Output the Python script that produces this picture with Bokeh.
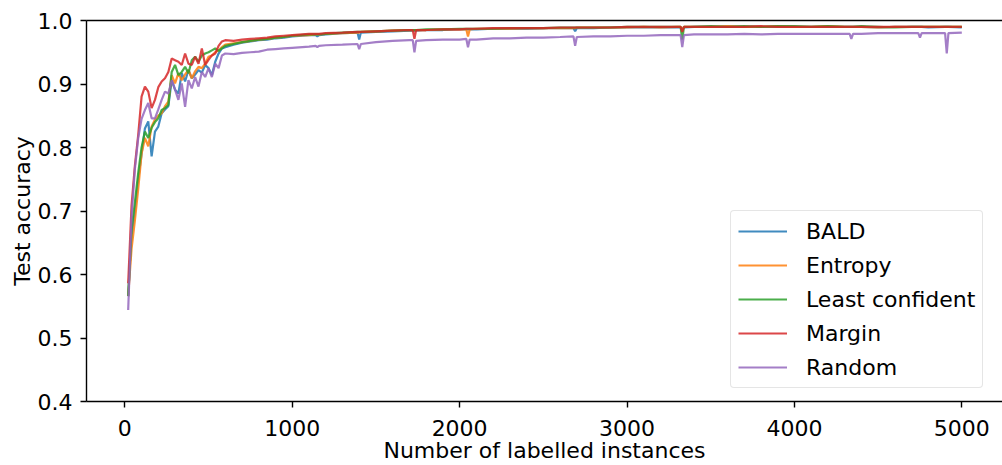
from bokeh.plotting import figure
from bokeh.models import Range1d, FixedTicker, PrintfTickFormatter, Legend, LegendItem, LinearAxis
from bokeh.embed import file_html
from bokeh.resources import INLINE

instances = [
    20, 40, 60, 80, 100, 120, 140, 160, 180, 200,
    220, 240, 260, 280, 300, 320, 340, 360, 380, 400,
    420, 440, 460, 480, 500, 520, 540, 560, 580, 600,
    650, 700, 750, 800, 850, 900, 950, 1000,
    1100, 1140, 1150, 1160, 1200, 1300,
    1390, 1400, 1410, 1500, 1600, 1700,
    1720, 1730, 1740, 1800, 1900, 2000,
    2040, 2050, 2060, 2100, 2200, 2300, 2400, 2500, 2600,
    2680, 2690, 2700, 2800, 2900, 3000, 3100, 3200, 3300,
    3320, 3330, 3340, 3400, 3500, 3600, 3700, 3800, 3900, 4000, 4100, 4200, 4300,
    4330, 4340, 4350, 4400, 4500, 4600, 4700,
    4740, 4750, 4760, 4800, 4900, 4910, 4920, 5000,
]

bald = [
    0.566, 0.660, 0.700, 0.750, 0.790, 0.830, 0.841, 0.786, 0.825, 0.833,
    0.854, 0.860, 0.865, 0.906, 0.891, 0.885, 0.917, 0.904, 0.922, 0.909,
    0.915, 0.922, 0.918, 0.930, 0.925, 0.914, 0.935, 0.948, 0.956, 0.958,
    0.962, 0.965, 0.967, 0.969, 0.970, 0.972, 0.973, 0.975,
    0.977, 0.977, 0.975, 0.977, 0.978, 0.980,
    0.981, 0.970, 0.981, 0.982, 0.983, 0.984,
    0.984, 0.984, 0.984, 0.985, 0.985, 0.986,
    0.986, 0.986, 0.986, 0.986, 0.987, 0.987, 0.987, 0.988, 0.988,
    0.988, 0.983, 0.988, 0.988, 0.989, 0.989, 0.989, 0.989, 0.989,
    0.989, 0.986, 0.989, 0.990, 0.990, 0.990, 0.990, 0.990, 0.990, 0.990, 0.990, 0.990, 0.990,
    0.990, 0.990, 0.990, 0.990, 0.989, 0.990, 0.990,
    0.990, 0.990, 0.990, 0.989, 0.990, 0.990, 0.990, 0.989,
]

entropy = [
    0.566, 0.640, 0.685, 0.735, 0.790, 0.815, 0.802, 0.833, 0.844, 0.850,
    0.854, 0.865, 0.872, 0.914, 0.901, 0.917, 0.906, 0.915, 0.922, 0.909,
    0.920, 0.927, 0.925, 0.932, 0.943, 0.945, 0.950, 0.953, 0.958, 0.962,
    0.964, 0.966, 0.968, 0.970, 0.971, 0.973, 0.974, 0.976,
    0.977, 0.978, 0.978, 0.978, 0.979, 0.980,
    0.981, 0.981, 0.982, 0.983, 0.984, 0.985,
    0.985, 0.985, 0.985, 0.985, 0.986, 0.986,
    0.986, 0.975, 0.986, 0.987, 0.987, 0.987, 0.988, 0.988, 0.988,
    0.988, 0.988, 0.989, 0.989, 0.989, 0.989, 0.990, 0.989, 0.990,
    0.990, 0.985, 0.990, 0.990, 0.990, 0.991, 0.990, 0.990, 0.991, 0.990, 0.990, 0.991, 0.990,
    0.990, 0.990, 0.990, 0.990, 0.989, 0.990, 0.990,
    0.990, 0.990, 0.990, 0.990, 0.990, 0.990, 0.990, 0.990,
]

least_confident = [
    0.566, 0.670, 0.714, 0.760, 0.800, 0.825, 0.815, 0.831, 0.840, 0.846,
    0.859, 0.862, 0.867, 0.919, 0.930, 0.914, 0.919, 0.927, 0.917, 0.9375,
    0.943, 0.935, 0.945, 0.948, 0.950, 0.953, 0.956, 0.952, 0.956, 0.960,
    0.963, 0.966, 0.968, 0.970, 0.971, 0.973, 0.974, 0.976,
    0.978, 0.978, 0.978, 0.978, 0.979, 0.981,
    0.982, 0.982, 0.982, 0.983, 0.984, 0.985,
    0.985, 0.985, 0.985, 0.986, 0.986, 0.987,
    0.987, 0.987, 0.987, 0.987, 0.987, 0.988, 0.988, 0.988, 0.989,
    0.989, 0.989, 0.989, 0.989, 0.989, 0.990, 0.990, 0.990, 0.990,
    0.990, 0.970, 0.990, 0.990, 0.991, 0.990, 0.991, 0.990, 0.991, 0.991, 0.990, 0.991, 0.990,
    0.990, 0.990, 0.990, 0.991, 0.990, 0.989, 0.990,
    0.990, 0.990, 0.990, 0.990, 0.990, 0.990, 0.990, 0.990,
]

margin = [
    0.586, 0.708, 0.771, 0.820, 0.880, 0.896, 0.888, 0.862, 0.875, 0.895,
    0.904, 0.909, 0.919, 0.940, 0.9375, 0.935, 0.930, 0.948, 0.932, 0.930,
    0.943, 0.932, 0.956, 0.930, 0.938, 0.945, 0.948, 0.960, 0.967, 0.969,
    0.968, 0.970, 0.971, 0.972, 0.973, 0.975, 0.976, 0.977,
    0.979, 0.979, 0.979, 0.979, 0.980, 0.981,
    0.982, 0.982, 0.982, 0.983, 0.984, 0.985,
    0.985, 0.971, 0.985, 0.985, 0.986, 0.986,
    0.987, 0.987, 0.987, 0.987, 0.988, 0.988, 0.988, 0.988, 0.989,
    0.989, 0.989, 0.989, 0.989, 0.989, 0.990, 0.990, 0.990, 0.990,
    0.990, 0.982, 0.990, 0.990, 0.990, 0.990, 0.990, 0.991, 0.990, 0.990, 0.990, 0.990, 0.990,
    0.990, 0.990, 0.990, 0.990, 0.990, 0.990, 0.990,
    0.990, 0.990, 0.990, 0.990, 0.990, 0.990, 0.990, 0.990,
]

random_ = [
    0.544, 0.690, 0.766, 0.815, 0.845, 0.859, 0.870, 0.846, 0.846, 0.860,
    0.875, 0.888, 0.885, 0.906, 0.891, 0.875, 0.901, 0.864, 0.906, 0.893,
    0.911, 0.896, 0.919, 0.911, 0.925, 0.911, 0.932, 0.925, 0.945, 0.948,
    0.947, 0.949, 0.950, 0.951, 0.954, 0.955, 0.956, 0.957,
    0.959, 0.960, 0.958, 0.960, 0.961, 0.962,
    0.963, 0.955, 0.963, 0.966, 0.968, 0.969,
    0.969, 0.950, 0.968, 0.969, 0.970, 0.970,
    0.971, 0.958, 0.970, 0.970, 0.972, 0.972, 0.973, 0.973, 0.974,
    0.975, 0.960, 0.974, 0.975, 0.975, 0.976, 0.976, 0.977, 0.977,
    0.977, 0.958, 0.977, 0.978, 0.978, 0.978, 0.979, 0.978, 0.979, 0.979, 0.979, 0.979, 0.979,
    0.979, 0.971, 0.979, 0.979, 0.980, 0.980, 0.980,
    0.980, 0.973, 0.980, 0.980, 0.980, 0.948, 0.980, 0.981,
]

labels = ["BALD", "Entropy", "Least confident", "Margin", "Random"]
colors = ["#1f77b4", "#ff7f0e", "#2ca02c", "#d62728", "#9467bd"]
series = [bald, entropy, least_confident, margin, random_]

x_ticks = [0, 1000, 2000, 3000, 4000, 5000]
y_ticks = [0.4, 0.5, 0.6, 0.7, 0.8, 0.9, 1.0]

FONT = "DejaVu Sans"

p = figure(width=1002, height=465, output_backend="svg", toolbar_location=None,
           x_range=Range1d(-229, 5243), y_range=Range1d(0.4, 1.0),
           min_border_left=86, min_border_right=0, min_border_top=20, min_border_bottom=63)
p.outline_line_color = None
p.grid.visible = False
p.background_fill_color = "white"
p.border_fill_color = "white"

items = []
for lab, col, vals in zip(labels, colors, series):
    r = p.line(instances, vals, line_color=col, line_width=2.2, line_alpha=0.85)
    items.append(LegendItem(label=lab, renderers=[r]))

for ax in (p.xaxis[0], p.yaxis[0]):
    ax.axis_line_color = "black"
    ax.axis_line_width = 1.4
    ax.major_tick_line_color = "black"
    ax.major_tick_line_width = 1.4
    ax.major_tick_in = 0
    ax.major_tick_out = 6
    ax.minor_tick_line_color = None
    ax.major_label_text_font = FONT
    ax.major_label_text_font_size = "22px"
    ax.major_label_text_color = "black"
    ax.axis_label_text_font = FONT
    ax.axis_label_text_font_size = "22px"
    ax.axis_label_text_font_style = "normal"
    ax.axis_label_text_color = "black"

p.xaxis[0].ticker = FixedTicker(ticks=x_ticks)
p.yaxis[0].ticker = FixedTicker(ticks=y_ticks)
p.yaxis[0].formatter = PrintfTickFormatter(format="%.1f")
p.xaxis[0].axis_label = "Number of labelled instances"
p.yaxis[0].axis_label = "Test accuracy"
p.xaxis[0].major_label_standoff = 12
p.xaxis[0].axis_label_standoff = -1
p.yaxis[0].major_label_standoff = 8
p.yaxis[0].axis_label_standoff = 0

top_spine = LinearAxis(axis_line_color="black", axis_line_width=1.4,
                       major_tick_line_color=None, minor_tick_line_color=None,
                       major_label_text_font_size="0px", major_label_standoff=0,
                       major_tick_in=0, major_tick_out=0, ticker=FixedTicker(ticks=[]))
p.add_layout(top_spine, "above")

legend = Legend(items=items, location=(644, 13), margin=0, padding=7,
                spacing=8, label_height=26, glyph_height=26, glyph_width=49,
                label_standoff=19, label_text_font=FONT, label_text_font_size="22px",
                label_text_color="black", border_line_color="#cccccc",
                border_line_width=1, background_fill_alpha=0.8)
if "border_radius" in Legend.properties():
    legend.border_radius = 4
p.add_layout(legend, "center")

open("out.html", "w").write(file_html(p, INLINE))
